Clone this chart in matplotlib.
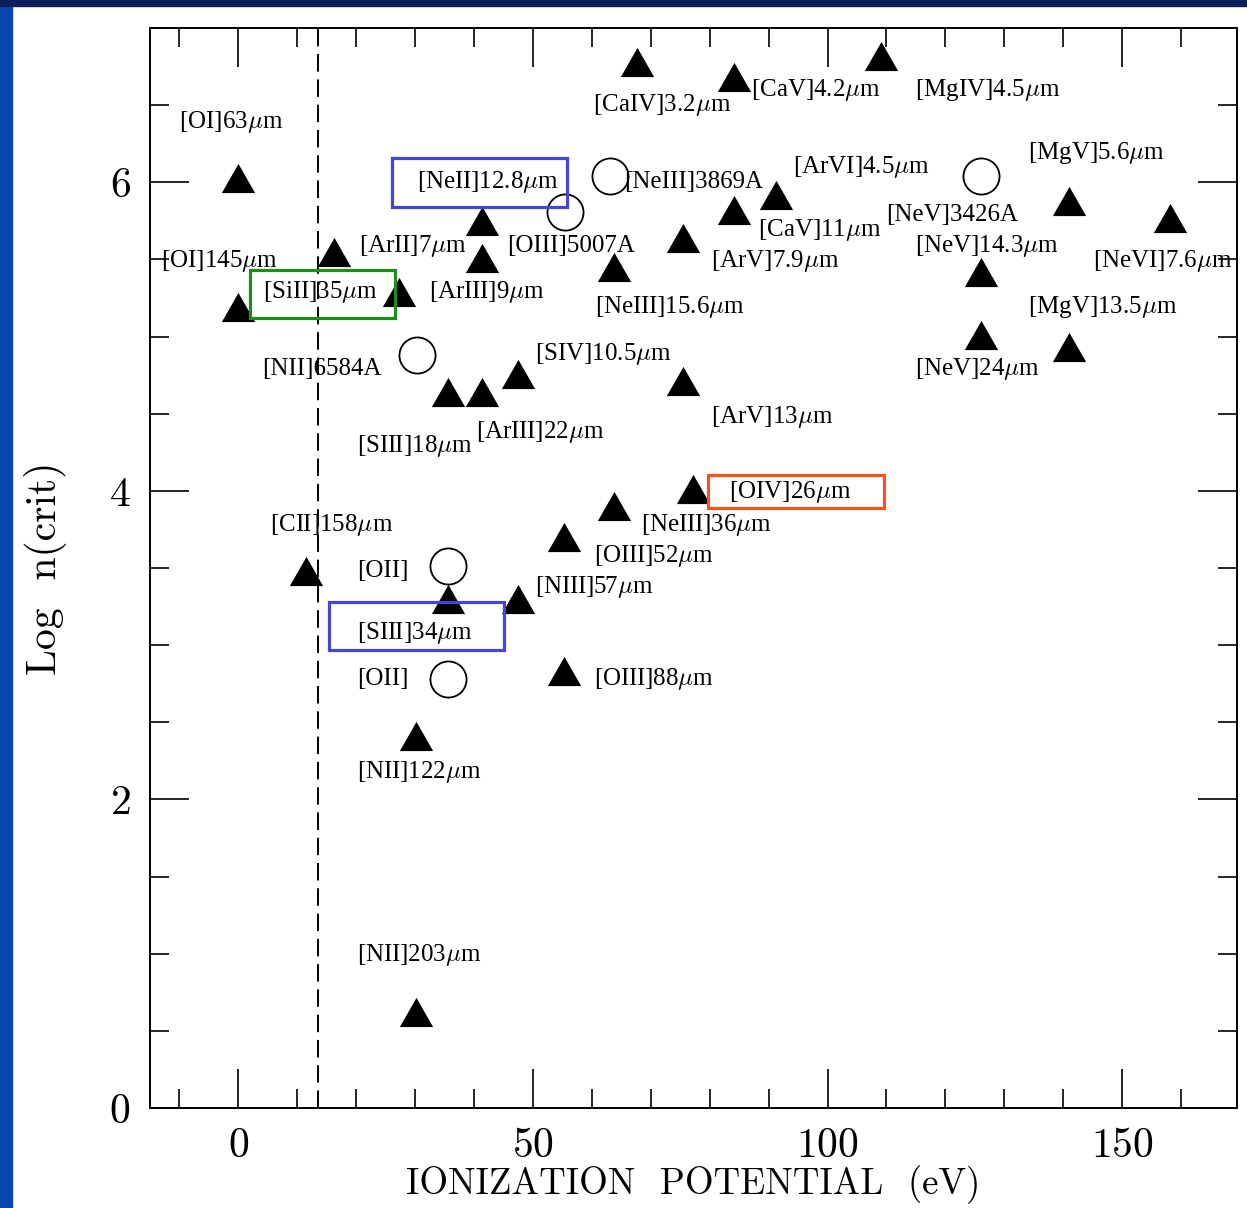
import numpy as np
import matplotlib
matplotlib.use("Agg")
import matplotlib.pyplot as plt
from matplotlib.patches import Rectangle
from matplotlib.path import Path

plt.rcParams['mathtext.fontset'] = 'cm'
plt.rcParams['axes.formatter.use_mathtext'] = True

# filled triangles (ionization potential eV, log critical density)
tri_ip = [0, 0, 16.3, 27.3, 41.4, 41.4, 67.6, 84.2, 109.0, 91.3, 84.2, 75.4,
          63.8, 140.9, 158.2, 126.0, 126.0, 140.9, 35.5, 41.4, 47.4, 75.4,
          77.1, 63.8, 55.3, 47.4, 55.3, 11.4, 35.5, 30.2, 30.2]
tri_logn = [6.03, 5.19, 5.55, 5.29, 5.75, 5.51, 6.78, 6.68, 6.82, 5.92, 5.82,
            5.64, 5.45, 5.88, 5.77, 5.42, 5.01, 4.93, 4.64, 4.64, 4.76, 4.71,
            4.01, 3.90, 3.70, 3.30, 2.83, 3.48, 3.30, 2.41, 0.62]

# open circles (optical lines)
circ_ip = [30.4, 35.5, 35.5, 55.5, 63.1, 126.0]
circ_logn = [4.88, 3.51, 2.78, 5.81, 6.04, 6.04]

# line labels
labels = [r"[OI]63$\mu$m", r"[OI]145$\mu$m", r"[SiII]35$\mu$m", r"[ArII]7$\mu$m",
          r"[NeII]12.8$\mu$m", r"[ArIII]9$\mu$m", "[OIII]5007A", "[NeIII]3869A",
          r"[CaIV]3.2$\mu$m", r"[CaV]4.2$\mu$m", r"[MgIV]4.5$\mu$m", r"[ArVI]4.5$\mu$m",
          r"[CaV]11$\mu$m", r"[ArV]7.9$\mu$m", r"[NeIII]15.6$\mu$m", "[NeV]3426A",
          r"[MgV]5.6$\mu$m", r"[NeV]14.3$\mu$m", r"[NeVI]7.6$\mu$m", r"[MgV]13.5$\mu$m",
          r"[NeV]24$\mu$m", "[NII]6584A", r"[SIV]10.5$\mu$m", r"[SIII]18$\mu$m",
          r"[ArIII]22$\mu$m", r"[ArV]13$\mu$m", r"[OIV]26$\mu$m", r"[NeIII]36$\mu$m",
          r"[OIII]52$\mu$m", r"[NIII]57$\mu$m", r"[OIII]88$\mu$m", r"[CII]158$\mu$m",
          "[OII]", r"[SIII]34$\mu$m", "[OII]", r"[NII]122$\mu$m", r"[NII]203$\mu$m"]
label_x = [-10.0, -13.1, 4.1, 20.5, 30.4, 32.4, 45.6, 65.5, 60.2, 87.0, 114.8,
           94.1, 88.2, 80.2, 60.6, 109.9, 134.0, 114.8, 145.0, 134.0, 114.8,
           4.1, 50.4, 20.2, 40.4, 80.2, 83.3, 68.4, 60.4, 50.4, 60.4, 5.3,
           20.2, 20.2, 20.2, 20.2, 20.2]
label_y = [6.39, 5.49, 5.29, 5.59, 6.00, 5.29, 5.59, 6.00, 6.50, 6.60, 6.60,
           6.10, 5.69, 5.49, 5.19, 5.79, 6.19, 5.59, 5.49, 5.19, 4.79, 4.79,
           4.89, 4.29, 4.38, 4.48, 3.99, 3.78, 3.58, 3.38, 2.78, 3.78, 3.48,
           3.08, 2.78, 2.18, 0.99]

# highlight boxes (x0, x1, y0, y1) and colours
box_x0 = [1.9, 26.1, 15.4, 79.7]
box_x1 = [26.5, 55.8, 45.1, 109.6]
box_y0 = [5.12, 5.84, 2.97, 3.89]
box_y1 = [5.43, 6.16, 3.28, 4.10]
box_col = ['#1e8c1e', '#4646d2', '#4646d2', '#f0561e']

h_ionization = 13.6

fig = plt.figure(figsize=(12.47, 12.08), dpi=100)
# blue slide frame
fig.patches.append(Rectangle((0, 0), 12 / 1247, 1, transform=fig.transFigure,
                             color='#0a47b0', zorder=-10))
fig.patches.append(Rectangle((0, 1 - 6 / 1208), 1, 6 / 1208, transform=fig.transFigure,
                             color='#0c1f5c', zorder=-10))

ax = fig.add_axes([150 / 1247, 1 - 1108 / 1208, 1087 / 1247, 1080 / 1208])

tri = Path([(-1, -0.875), (1, -0.875), (0, 0.875), (-1, -0.875)],
           [Path.MOVETO, Path.LINETO, Path.LINETO, Path.CLOSEPOLY])
ax.plot(tri_ip, tri_logn, ls='none', marker=tri, ms=24, color='black', mew=0)
ax.plot(circ_ip, circ_logn, ls='none', marker='o', ms=26, mfc='none',
        mec='black', mew=1.3)

ax.axvline(h_ionization, color='black', lw=1.4, ls=(0, (9, 4)))

for t, x, y in zip(labels, label_x, label_y):
    ax.text(x, y, t, fontsize=18, family='Liberation Serif', va='center', ha='left')

for x0, x1, y0, y1, c in zip(box_x0, box_x1, box_y0, box_y1, box_col):
    ax.add_patch(Rectangle((x0, y0), x1 - x0, y1 - y0, fill=False, ec=c, lw=2.3, zorder=5))

ax.set_xlim(-15, 169.5)
ax.set_ylim(0, 7)
ax.set_xticks([0, 50, 100, 150])
ax.set_xticks(np.arange(-10, 170, 10), minor=True)
ax.set_yticks([0, 2, 4, 6])
ax.set_yticks(np.arange(0, 7.01, 0.5), minor=True)
ax.tick_params(which='both', direction='in', top=True, right=True, width=1.2,
               labelsize=30, colors='black')
ax.tick_params(which='major', length=28, pad=14)
ax.tick_params(which='minor', length=14)
for lab in ax.get_xticklabels() + ax.get_yticklabels():
    lab.set_family('cmr10')
for s in ax.spines.values():
    s.set_linewidth(1.4)

ax.set_xlabel('IONIZATION  POTENTIAL  (eV)', fontsize=26.5, family='cmr10', labelpad=0)
ax.set_ylabel('Log  n(crit)', fontsize=30, family='cmr10', labelpad=30)

fig.savefig('out.png', dpi=100)
